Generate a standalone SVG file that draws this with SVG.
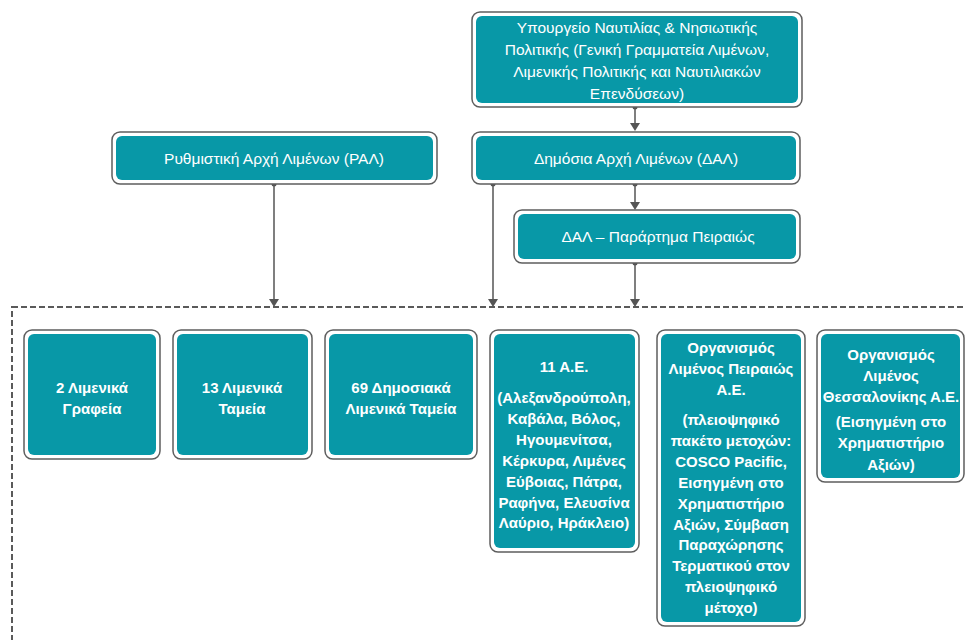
<svg xmlns="http://www.w3.org/2000/svg" width="965" height="640" viewBox="0 0 965 640">
<defs>
<style>
.outer{fill:#fff;stroke:#5e5e5e;stroke-width:1.5}
.inner{fill:#0898a7}
.t{font-family:"Liberation Sans",Arial,sans-serif;font-size:15.5px;fill:#fff;text-anchor:middle}
.b{font-weight:bold;font-size:15px}
.conn{stroke:#555;stroke-width:1.5;fill:none}
.dot{fill:#555}
.dash{fill:none;stroke:#5a5a5a;stroke-width:2;stroke-dasharray:6 3}
</style>
</defs>
<rect class="dash" x="12" y="307" width="1000" height="400"/>
<g id="connectors">
<line class="conn" x1="635" y1="107" x2="635" y2="123"/><path d="M630,123 L640,123 L635,131 Z" class="dot"/><circle class="dot" cx="635" cy="107" r="2.5"/>
<line class="conn" x1="635" y1="184" x2="635" y2="202"/><path d="M630,202 L640,202 L635,210 Z" class="dot"/><circle class="dot" cx="635" cy="184" r="2.5"/>
<line class="conn" x1="274" y1="184" x2="274" y2="299"/><path d="M269,299 L279,299 L274,307 Z" class="dot"/><circle class="dot" cx="274" cy="184" r="2.5"/>
<line class="conn" x1="493" y1="184" x2="493" y2="299"/><path d="M488,299 L498,299 L493,307 Z" class="dot"/><circle class="dot" cx="493" cy="184" r="2.5"/>
<line class="conn" x1="635" y1="263" x2="635" y2="299"/><path d="M630,299 L640,299 L635,307 Z" class="dot"/><circle class="dot" cx="635" cy="263" r="2.5"/>
</g>
<g id="ministry">
<rect class="outer" x="472" y="12" width="330" height="95" rx="8"/>
<rect class="inner" x="476" y="16" width="322" height="87" rx="6"/>
<text class="t" x="637" y="33">Υπουργείο Ναυτιλίας &amp; Νησιωτικής</text>
<text class="t" x="637" y="55">Πολιτικής (Γενική Γραμματεία Λιμένων,</text>
<text class="t" x="637" y="77">Λιμενικής Πολιτικής και Ναυτιλιακών</text>
<text class="t" x="637" y="99">Επενδύσεων)</text>
</g>
<g id="ral">
<rect class="outer" x="112" y="132" width="325" height="52" rx="8"/>
<rect class="inner" x="116" y="136" width="317" height="44" rx="6"/>
<text class="t" x="274" y="164">Ρυθμιστική Αρχή Λιμένων (ΡΑΛ)</text>
</g>
<g id="dal">
<rect class="outer" x="472" y="132" width="328" height="52" rx="8"/>
<rect class="inner" x="476" y="136" width="320" height="44" rx="6"/>
<text class="t" x="636" y="164">Δημόσια Αρχή Λιμένων (ΔΑΛ)</text>
</g>
<g id="dal-piraeus">
<rect class="outer" x="514" y="210" width="286" height="53" rx="8"/>
<rect class="inner" x="518" y="214" width="278" height="45" rx="6"/>
<text class="t" x="658" y="242">ΔΑΛ – Παράρτημα Πειραιώς</text>
</g>
<g id="box1">
<rect class="outer" x="24" y="330" width="136" height="129" rx="8"/>
<rect class="inner" x="28" y="334" width="128" height="121" rx="6"/>
<text class="t b" x="92" y="393">2 Λιμενικά</text>
<text class="t b" x="92" y="414">Γραφεία</text>
</g>
<g id="box2">
<rect class="outer" x="173" y="330" width="139" height="129" rx="8"/>
<rect class="inner" x="177" y="334" width="131" height="121" rx="6"/>
<text class="t b" x="242" y="393">13 Λιμενικά</text>
<text class="t b" x="242" y="414">Ταμεία</text>
</g>
<g id="box3">
<rect class="outer" x="325" y="330" width="152" height="129" rx="8"/>
<rect class="inner" x="329" y="334" width="144" height="121" rx="6"/>
<text class="t b" x="401" y="393">69 Δημοσιακά</text>
<text class="t b" x="401" y="414">Λιμενικά Ταμεία</text>
</g>
<g id="box4">
<rect class="outer" x="490" y="330" width="149" height="222" rx="8"/>
<rect class="inner" x="494" y="334" width="141" height="214" rx="6"/>
<text class="t b" x="564" y="372">11 Α.Ε.</text>
<text class="t b" x="564" y="403">(Αλεξανδρούπολη,</text>
<text class="t b" x="564" y="424">Καβάλα, Βόλος,</text>
<text class="t b" x="564" y="445">Ηγουμενίτσα,</text>
<text class="t b" x="564" y="466">Κέρκυρα, Λιμένες</text>
<text class="t b" x="564" y="487">Εύβοιας, Πάτρα,</text>
<text class="t b" x="564" y="508">Ραφήνα, Ελευσίνα</text>
<text class="t b" x="564" y="528">Λαύριο, Ηράκλειο)</text>
</g>
<g id="box5">
<rect class="outer" x="657" y="330" width="148" height="296" rx="8"/>
<rect class="inner" x="661" y="334" width="140" height="288" rx="6"/>
<text class="t b" x="731" y="353">Οργανισμός</text>
<text class="t b" x="731" y="374">Λιμένος Πειραιώς</text>
<text class="t b" x="731" y="395">Α.Ε.</text>
<text class="t b" x="731" y="425">(πλειοψηφικό</text>
<text class="t b" x="731" y="446">πακέτο μετοχών:</text>
<text class="t b" x="731" y="467">COSCO Pacific,</text>
<text class="t b" x="731" y="488">Εισηγμένη στο</text>
<text class="t b" x="731" y="509">Χρηματιστήριο</text>
<text class="t b" x="731" y="530">Αξιών, Σύμβαση</text>
<text class="t b" x="731" y="550">Παραχώρησης</text>
<text class="t b" x="731" y="571">Τερματικού στον</text>
<text class="t b" x="731" y="592">πλειοψηφικό</text>
<text class="t b" x="731" y="613">μέτοχο)</text>
</g>
<g id="box6">
<rect class="outer" x="817" y="330" width="147" height="152" rx="8"/>
<rect class="inner" x="821" y="334" width="139" height="144" rx="6"/>
<text class="t b" x="891" y="360">Οργανισμός</text>
<text class="t b" x="891" y="381">Λιμένος</text>
<text class="t b" x="891" y="402">Θεσσαλονίκης Α.Ε.</text>
<text class="t b" x="891" y="427">(Εισηγμένη στο</text>
<text class="t b" x="891" y="448">Χρηματιστήριο</text>
<text class="t b" x="891" y="470">Αξιών)</text>
</g>
</svg>
